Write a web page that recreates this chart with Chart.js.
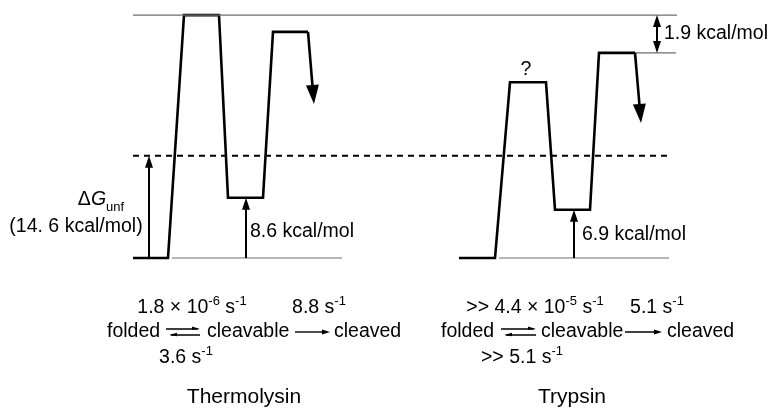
<!DOCTYPE html>
<html>
<head>
<meta charset="utf-8">
<script src="https://cdn.jsdelivr.net/npm/chart.js@4/dist/chart.umd.min.js"></script>
<style>
  html, body { margin: 0; padding: 0; background: #fff; }
</style>
</head>
<body>
<canvas id="diagram" width="768" height="408"></canvas>
<script>
// energy levels (diagram units, baseline = 0)
var topLevel = 34.7;
var dashLevel = 14.6;

// reaction coordinate x positions and energies for each enzyme path
var thermoX = [133, 168, 184, 219, 228, 263, 273, 308];
var thermoY = [0, 0, 34.7, 34.7, 8.6, 8.6, 32.3, 32.3];
var trypX = [459, 495, 510, 546, 555, 590, 599, 635];
var trypY = [0, 0, 25.1, 25.1, 6.9, 6.9, 29.3, 29.3];

// thin reference lines [x1, x2, y]
var refLines = [
  [133, 677, topLevel],
  [172, 342, 0],
  [499, 669, 0],
  [635, 676, 29.3]
];

// arrows: [x1, y1, x2, y2, head size, double]
var arrows = [
  [149, 0, 149, dashLevel, 'small', false],
  [246, 0, 246, 8.6, 'small', false],
  [574, 0, 574, 6.9, 'small', false],
  [657, 29.3, 657, topLevel, 'small', true],
  [308, 32.3, 314, 22.0, 'big', false],
  [635, 29.3, 641, 19.3, 'big', false]
];

// scheme arrows (x ranges) at scheme row
var schemeY = -10.57;
var eqArrows = [[166, 200], [501, 536]];
var fwdArrows = [[295, 330], [625, 662]];

// text labels: [x, y, align, size, parts]
var labels = [
  [101, 8.3, 'center', 19.5, [['\u0394', 'n'], ['G', 'i'], ['unf', 'sub']]],
  [76, 4.43, 'center', 19.5, [['(14. 6 kcal/mol)', 'n']]],
  [250, 3.71, 'left', 19.5, [['8.6 kcal/mol', 'n']]],
  [526, 26.9, 'center', 19.5, [['?', 'n']]],
  [664, 32.1, 'left', 19.5, [['1.9 kcal/mol', 'n']]],
  [582, 3.29, 'left', 19.5, [['6.9 kcal/mol', 'n']]],
  [192, -7.14, 'center', 19.5, [['1.8 \u00d7 10', 'n'], ['-6', 'sup'], [' s', 'n'], ['-1', 'sup']]],
  [319, -7.14, 'center', 19.5, [['8.8 s', 'n'], ['-1', 'sup']]],
  [107, schemeY, 'left', 19.5, [['folded', 'n']]],
  [207, schemeY, 'left', 19.5, [['cleavable', 'n']]],
  [334, schemeY, 'left', 19.5, [['cleaved', 'n']]],
  [186, -14.29, 'center', 19.5, [['3.6 s', 'n'], ['-1', 'sup']]],
  [244, -19.86, 'center', 21, [['Thermolysin', 'n']]],
  [535, -7.14, 'center', 19.5, [['>> 4.4 \u00d7 10', 'n'], ['-5', 'sup'], [' s', 'n'], ['-1', 'sup']]],
  [657, -7.14, 'center', 19.5, [['5.1 s', 'n'], ['-1', 'sup']]],
  [441, schemeY, 'left', 19.5, [['folded', 'n']]],
  [541, schemeY, 'left', 19.5, [['cleavable', 'n']]],
  [667, schemeY, 'left', 19.5, [['cleaved', 'n']]],
  [522, -14.29, 'center', 19.5, [['>> 5.1 s', 'n'], ['-1', 'sup']]],
  [572, -19.86, 'center', 21, [['Trypsin', 'n']]]
];

function pts(xs, ys) {
  return xs.map(function(x, i) { return {x: x, y: ys[i]}; });
}

var datasets = [];
refLines.forEach(function(l) {
  datasets.push({data: [{x: l[0], y: l[2]}, {x: l[1], y: l[2]}], borderColor: '#6e6e6e', borderWidth: 1.2});
});
datasets.push({data: [{x: 133, y: dashLevel}, {x: 669, y: dashLevel}], borderColor: '#000', borderWidth: 2, borderDash: [6, 5]});
datasets.push({data: pts(thermoX, thermoY), borderColor: '#000', borderWidth: 2.6});
datasets.push({data: pts(trypX, trypY), borderColor: '#000', borderWidth: 2.6});

var FONT = '"Liberation Sans", Arial, Helvetica, sans-serif';

function fontFor(kind, size) {
  if (kind === 'sup' || kind === 'sub') return Math.round(size * 0.68) + 'px ' + FONT;
  if (kind === 'i') return 'italic ' + size + 'px ' + FONT;
  return size + 'px ' + FONT;
}

function drawHead(ctx, x1, y1, x2, y2, len, wid) {
  var a = Math.atan2(y2 - y1, x2 - x1);
  ctx.beginPath();
  ctx.moveTo(x2, y2);
  ctx.lineTo(x2 - len * Math.cos(a) + wid * Math.sin(a), y2 - len * Math.sin(a) - wid * Math.cos(a));
  ctx.lineTo(x2 - len * Math.cos(a) - wid * Math.sin(a), y2 - len * Math.sin(a) + wid * Math.cos(a));
  ctx.closePath();
  ctx.fill();
}

var annot = {
  id: 'annot',
  afterDatasetsDraw: function(chart) {
    var ctx = chart.ctx;
    var xs = chart.scales.x, ys = chart.scales.y;
    ctx.save();
    ctx.fillStyle = '#000';
    ctx.strokeStyle = '#000';

    arrows.forEach(function(a) {
      var x1 = xs.getPixelForValue(a[0]), y1 = ys.getPixelForValue(a[1]);
      var x2 = xs.getPixelForValue(a[2]), y2 = ys.getPixelForValue(a[3]);
      var big = a[4] === 'big';
      var len = big ? 19 : 12, wid = big ? 6.5 : 4;
      var ang = Math.atan2(y2 - y1, x2 - x1);
      ctx.lineWidth = big ? 2.6 : 2;
      ctx.beginPath();
      var sx = a[5] ? x1 + (len - 2) * Math.cos(ang) : x1;
      var sy = a[5] ? y1 + (len - 2) * Math.sin(ang) : y1;
      ctx.moveTo(sx, sy);
      ctx.lineTo(x2 - (len - 2) * Math.cos(ang), y2 - (len - 2) * Math.sin(ang));
      ctx.stroke();
      drawHead(ctx, x1, y1, x2, y2, len, wid);
      if (a[5]) drawHead(ctx, x2, y2, x1, y1, len, wid);
    });

    var sy = ys.getPixelForValue(schemeY);
    ctx.lineWidth = 1.4;
    eqArrows.forEach(function(e) {
      var x1 = xs.getPixelForValue(e[0]), x2 = xs.getPixelForValue(e[1]);
      ctx.beginPath();
      ctx.moveTo(x1, sy - 3); ctx.lineTo(x2 - 2, sy - 3);
      ctx.moveTo(x1 + 5, sy + 3); ctx.lineTo(x2, sy + 3);
      ctx.stroke();
      // half heads: upper line points right, lower line points left
      ctx.beginPath();
      ctx.moveTo(x2, sy - 3); ctx.lineTo(x2 - 8, sy - 5.5); ctx.lineTo(x2 - 8, sy - 2.3); ctx.closePath();
      ctx.fill();
      ctx.beginPath();
      ctx.moveTo(x1 + 3, sy + 3); ctx.lineTo(x1 + 11, sy + 0.8); ctx.lineTo(x1 + 11, sy + 4.2); ctx.closePath();
      ctx.fill();
    });
    fwdArrows.forEach(function(f) {
      var x1 = xs.getPixelForValue(f[0]), x2 = xs.getPixelForValue(f[1]);
      ctx.beginPath();
      ctx.moveTo(x1, sy); ctx.lineTo(x2 - 4, sy);
      ctx.stroke();
      ctx.beginPath();
      ctx.moveTo(x2, sy); ctx.lineTo(x2 - 8, sy - 2.5); ctx.lineTo(x2 - 8, sy + 2.5); ctx.closePath();
      ctx.fill();
    });

    ctx.textBaseline = 'middle';
    ctx.textAlign = 'left';
    labels.forEach(function(l) {
      var px = xs.getPixelForValue(l[0]), py = ys.getPixelForValue(l[1]);
      var size = l[3], parts = l[4];
      var total = 0;
      parts.forEach(function(p) { ctx.font = fontFor(p[1], size); total += ctx.measureText(p[0]).width; });
      var cx = l[2] === 'center' ? px - total / 2 : px;
      parts.forEach(function(p) {
        ctx.font = fontFor(p[1], size);
        var off = p[1] === 'sup' ? -size * 0.36 : (p[1] === 'sub' ? size * 0.36 : 0);
        ctx.fillText(p[0], cx, py + off);
        cx += ctx.measureText(p[0]).width;
      });
    });
    ctx.restore();
  }
};

new Chart(document.getElementById('diagram'), {
  type: 'scatter',
  data: {datasets: datasets.map(function(d) {
    d.showLine = true; d.pointRadius = 0; d.fill = false; d.tension = 0;
    return d;
  })},
  options: {
    responsive: false,
    animation: false,
    layout: {padding: 0},
    plugins: {legend: {display: false}, tooltip: {enabled: false}},
    scales: {
      x: {type: 'linear', min: 0, max: 768, display: false},
      y: {type: 'linear', min: -21.43, max: 36.86, display: false}
    }
  },
  plugins: [annot]
});
</script>
</body>
</html>
